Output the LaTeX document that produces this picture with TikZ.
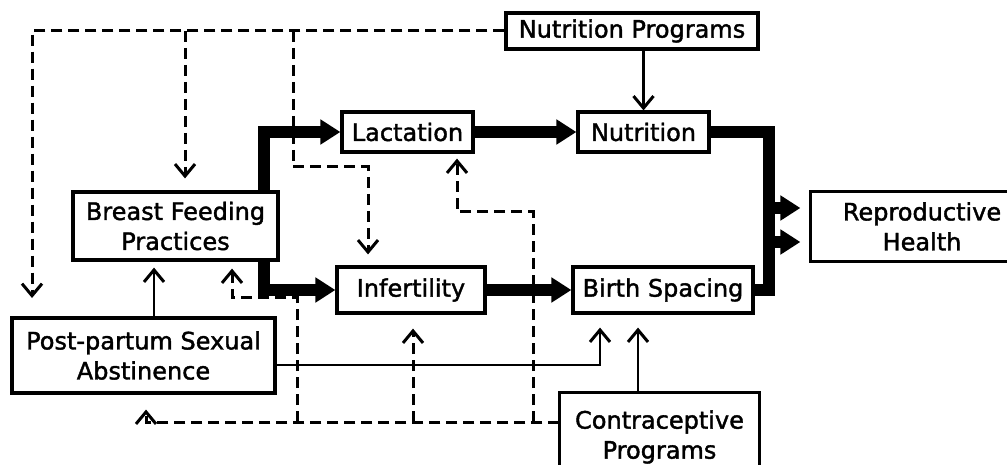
\documentclass[tikz,border=0pt]{standalone}
\usepackage{fontspec}
\setmainfont{DejaVu Sans}
\newfontfamily\dfont[FakeBold=1.6]{DejaVu Sans}
\usetikzlibrary{arrows.meta,calc}
\begin{document}
\begin{tikzpicture}[x=1pt,y=-1pt,
  box/.style={draw,line width=3.2pt,inner sep=0pt,align=center,font=\dfont\fontsize{24}{30}\selectfont},
  boxline/.style={line width=3.2pt},
  thickline/.style={line width=12pt,line join=miter},
  thk/.style={line width=12pt,line join=miter,-{Triangle[length=20pt,width=24pt]}},
  thinarrow/.style={line width=2.7pt,-{Straight Barb[length=12pt,width=20pt,line width=3pt]}},
  dasharrow/.style={line width=3pt,dash pattern=on 11pt off 6pt,-{Straight Barb[length=12pt,width=20pt,line width=3pt]}}]
\useasboundingbox (0,0) rectangle (1007,465);

% nodes
\node[box,minimum width=252pt,minimum height=36pt] (np) at (632,31) {Nutrition Programs};
\node[box,minimum width=131pt,minimum height=40pt] (nut) at (643.5,132) {Nutrition};
\node[box,minimum width=131pt,minimum height=40pt] (lact) at (407.5,132) {Lactation};
\node[box,minimum width=205pt,minimum height=68pt] (bf) at (175.5,226) {Breast Feeding\\Practices};
\node[box,minimum width=148pt,minimum height=46pt] (inf) at (411,290) {Infertility};
\node[box,minimum width=180pt,minimum height=46pt] (bs) at (663,290) {Birth Spacing};
\node[box,minimum width=263pt,minimum height=75pt] (pp) at (143.5,355.5) {Post-partum Sexual\\Abstinence};
\node[box,draw=none,minimum width=197pt,minimum height=86pt] (cp) at (659.5,437) {Contraceptive\\Programs};
\node[box,draw=none,minimum width=220pt,minimum height=67pt] (rh) at (922,226.5) {Reproductive\\Health};

% open boxes (cut by the picture edge)
\coordinate (bot) at (0,466);
\coordinate (edge) at (1008,0);
\draw[boxline] (cp.west |- bot) -- (cp.north west) -- (cp.north east) -- (cp.east |- bot);
\draw[boxline] (edge |- rh.north) -- (rh.north west) -- (rh.south west) -- (edge |- rh.south);

% thick connectors
\draw[thk] ([xshift=-16pt]bf.north east) |- (lact.west);
\draw[thk] ([xshift=-16pt]bf.south east) |- (inf.west);
\draw[thk] (lact.east) -- (nut.west);
\draw[thk] (inf.east) -- (bs.west);
\coordinate (vx) at (769,0);
\draw[thickline] (nut.east) -- (nut.east -| vx) -- (bs.east -| vx) -- (bs.east);
\coordinate (a1) at (769,208);
\coordinate (a2) at (769,242);
\draw[thk,shorten >=10pt] (a1) -- (a1 -| rh.west);
\draw[thk,shorten >=10pt] (a2) -- (a2 -| rh.west);

% thin connectors
\draw[thinarrow] (nut.north |- np.south) -- (nut.north);
\coordinate (p1) at ($(pp.north)+(10.5,0)$);
\draw[thinarrow,shorten >=6pt] (p1) -- (p1 |- bf.south);
\coordinate (p2) at ($(pp.east)+(0,9.5)$);
\coordinate (p3) at ($(bs.south)+(-63,0)$);
\draw[thinarrow,shorten >=13pt] (p2) -| (p3);
\coordinate (p4) at ($(cp.north)+(-21.5,0)$);
\draw[thinarrow,shorten >=13pt] (p4) -- (p4 |- bs.south);

% dashed connectors from Nutrition Programs
\coordinate (d0) at (32,298);
\draw[dasharrow] (np.west) -| (d0);
\coordinate (d1) at (185,0);
\draw[dasharrow,shorten >=12pt] (d1 |- np.west) -- (d1 |- bf.north);
\coordinate (d2) at (293,167);
\coordinate (d3) at (368,0);
\draw[dasharrow,shorten >=11pt] (d2 |- np.west) -- (d2) -| (d3 |- inf.north);

% dashed connectors from Contraceptive Programs
\coordinate (b0) at (146,422);
\draw[dasharrow,shorten >=15pt] (cp.west |- b0) -- (b0) -- (b0 |- pp.south);
\coordinate (b1) at (297,297);
\coordinate (b2) at (232,0);
\draw[dasharrow,shorten >=7pt] (b1 |- b0) -- (b1) -| (b2 |- bf.south);
\coordinate (b3) at (413,0);
\draw[dasharrow,shorten >=14pt] (b3 |- b0) -- (b3 |- inf.south);
\coordinate (b4) at (533,212);
\coordinate (b5) at (457,0);
\draw[dasharrow,shorten >=5pt] (b4 |- b0) -- (b4) -| (b5 |- lact.south);
\end{tikzpicture}
\end{document}
